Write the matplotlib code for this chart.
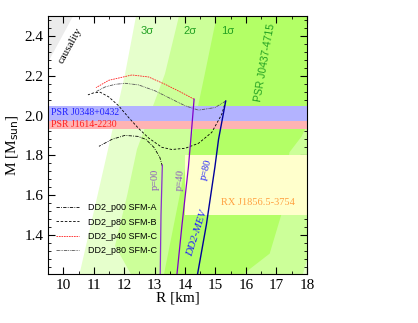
import numpy as np
import matplotlib
matplotlib.use("Agg")
import matplotlib.pyplot as plt
from matplotlib.ticker import MultipleLocator

# PSR J0437-4715 confidence regions (R [km], M [Msun])
sig3_R = [12.39, 18.6, 18.6, 10.50, 11.47, 12.03]
sig3_M = [2.50, 2.50, 1.18, 1.18, 1.83, 2.21]
sig2_R = [13.80, 18.6, 18.6, 18.0, 17.83, 12.30, 11.70, 12.10, 12.42, 13.34]
sig2_M = [2.50, 2.50, 1.40, 1.27, 1.18, 1.18, 1.345, 1.60, 1.83, 2.21]
sig1_R = [15.04, 18.6, 18.6, 18.01, 17.83, 17.43, 17.17, 16.78, 16.02, 15.80, 13.28, 14.06, 14.65]
sig1_M = [2.50, 2.50, 1.96, 1.955, 1.895, 1.815, 1.505, 1.305, 1.215, 1.18, 1.18, 1.78, 2.21]

caus_R = [9.4, 10.32, 9.4]
caus_M = [2.5, 2.5, 2.24]

# pulsar mass bands
j0348 = (1.97, 2.05)
j1614 = (1.93, 2.01)
# RX J1856.5-3754 box
rx_R = (14.0, 18.0)
rx_M = (1.5, 1.8)

# hadronic branches
p00_R = [13.18, 13.21, 13.254]
p00_M = [1.15, 1.50, 1.75]
p40_R = [13.70, 13.90, 14.11, 14.20, 14.297]
p40_M = [1.15, 1.45, 1.74, 1.90, 2.082]
p80_R = [14.35, 14.70, 14.98, 15.10, 15.336]
p80_M = [1.15, 1.45, 1.74, 1.88, 2.073]

# hybrid branches
sfmA_R = [13.254, 13.17, 12.975, 12.713, 12.451, 12.025, 11.598, 11.172]
sfmA_M = [1.745, 1.79, 1.84, 1.88, 1.895, 1.90, 1.88, 1.845]
sfmB_R = [15.336, 15.205, 14.877, 14.441, 14.002, 13.566, 13.238, 12.802, 12.474,
          12.146, 11.818, 11.49, 11.215, 10.998, 10.81]
sfmB_M = [2.073, 2.006, 1.915, 1.86, 1.835, 1.829, 1.84, 1.887, 1.935,
          1.99, 2.049, 2.094, 2.117, 2.114, 2.104]
sfmC40_R = [14.297, 13.893, 13.346, 12.802, 12.254, 11.49, 11.074]
sfmC40_M = [2.082, 2.115, 2.157, 2.194, 2.204, 2.177, 2.14]
sfmC80_R = [15.336, 14.985, 14.441, 14.002, 13.566, 13.018, 12.474, 12.034, 11.707, 11.379, 11.074]
sfmC80_M = [2.073, 2.04, 2.027, 2.049, 2.082, 2.124, 2.154, 2.162, 2.157, 2.144, 2.12]

serif = "Liberation Serif"
sans = "Liberation Sans"

fig = plt.figure(figsize=(4.18, 3.23), dpi=100)
ax = fig.add_axes([0.115, 0.152, 0.619, 0.798])

ax.fill(sig3_R, sig3_M, color="#e6ffcc", lw=0, zorder=1)
ax.fill(sig2_R, sig2_M, color="#ccff99", lw=0, zorder=1.1)
ax.fill(sig1_R, sig1_M, color="#b3ff66", lw=0, zorder=1.2)
ax.fill(caus_R, caus_M, color="#ebebeb", lw=0, zorder=1.3)

ax.axhspan(*j1614, color="#ffb3b3", lw=0, zorder=2)
ax.axhspan(*j0348, color="#b3b3ff", lw=0, zorder=2.1)
ax.fill_between(rx_R, rx_M[0], rx_M[1], color="#ffffcc", lw=0, zorder=2.2)

ax.plot(p00_R, p00_M, color="#8833cc", lw=0.9, zorder=4)
ax.plot(p40_R, p40_M, color="#8000c8", lw=0.9, zorder=4)
ax.plot(p80_R, p80_M, color="#00009a", lw=1.0, zorder=4)

ax.plot(sfmA_R, sfmA_M, color="k", lw=0.6, ls=(0, (4, 1.5, 1, 1.5)), zorder=3, label="DD2_p00 SFM-A")
ax.plot(sfmB_R, sfmB_M, color="k", lw=0.6, ls=(0, (3, 2)), zorder=3, label="DD2_p80 SFM-B")
ax.plot(sfmC40_R, sfmC40_M, color="#ff2020", lw=0.6, ls=(0, (2, 1)), zorder=3, label="DD2_p40 SFM-C")
ax.plot(sfmC80_R, sfmC80_M, color="#555555", lw=0.6, ls=(0, (4, 1, 1, 1, 1, 1)), zorder=3, label="DD2_p80 SFM-C")

# labels
ax.text(10.22, 2.35, "causality", rotation=61, fontsize=8, family=serif, ha="center", va="center", zorder=5)
ax.text(9.6, 2.013, "PSR J0348+0432", color="#2020ff", fontsize=7, family=serif, va="center", zorder=5)
ax.text(9.58, 1.953, "PSR J1614-2230", color="#ff2020", fontsize=7, family=serif, va="center", zorder=5)
ax.text(16.38, 1.56, "RX J1856.5-3754", color="#ffa040", fontsize=7.5, family=serif, ha="center", va="center", zorder=5)
ax.text(16.61, 2.265, "PSR J0437-4715", color="#22a022", fontsize=7.5, family=sans, rotation=80,
        ha="center", va="center", zorder=5)
for xs, s in [(12.75, "3σ"), (14.16, "2σ"), (15.4, "1σ")]:
    ax.text(xs, 2.425, s, color="#22a022", fontsize=8, family=sans, ha="center", va="center", zorder=5)
ax.text(13.04, 1.68, "p=00", color="#8c5abe", fontsize=7.5, family=serif, rotation=90, ha="center", va="center", zorder=5)
ax.text(13.83, 1.675, "p=40", color="#8c5abe", fontsize=7.5, family=serif, rotation=85, ha="center", va="center", zorder=5)
ax.text(14.70, 1.73, "p=80", color="#2020ff", fontsize=7.5, family=serif, rotation=75, ha="center", va="center", zorder=5)
ax.text(14.385, 1.405, "DD2-MEV", color="#2020ff", fontsize=8, family=serif, style="italic", rotation=72,
        ha="center", va="center", zorder=5)

ax.set_xlim(9.5, 18)
ax.set_ylim(1.203, 2.5)
ax.xaxis.set_major_locator(MultipleLocator(1))
ax.xaxis.set_minor_locator(MultipleLocator(0.5))
ax.yaxis.set_major_locator(MultipleLocator(0.2))
ax.yaxis.set_minor_locator(MultipleLocator(0.04))
ax.tick_params(which="both", direction="in", top=True, right=True, labelsize=11)
ax.tick_params(which="major", length=5, width=0.8)
ax.tick_params(which="minor", length=2.5, width=0.6)
for lab in ax.get_xticklabels() + ax.get_yticklabels():
    lab.set_family(serif)
for sp in ax.spines.values():
    sp.set_linewidth(0.8)
    sp.set_zorder(6)

ax.set_xlabel("R [km]", family=serif, fontsize=11, labelpad=0)
ax.set_ylabel(r"M [M$_{\rm sun}$]", family=serif, fontsize=11, labelpad=2)

leg = ax.legend(loc="lower left", bbox_to_anchor=(0.0, 0.04), frameon=False,
                handlelength=2.5, handletextpad=1.0, labelspacing=0.6,
                prop={"family": sans, "size": 6.5})
leg.set_zorder(7)

fig.savefig("out.png", dpi=100)
